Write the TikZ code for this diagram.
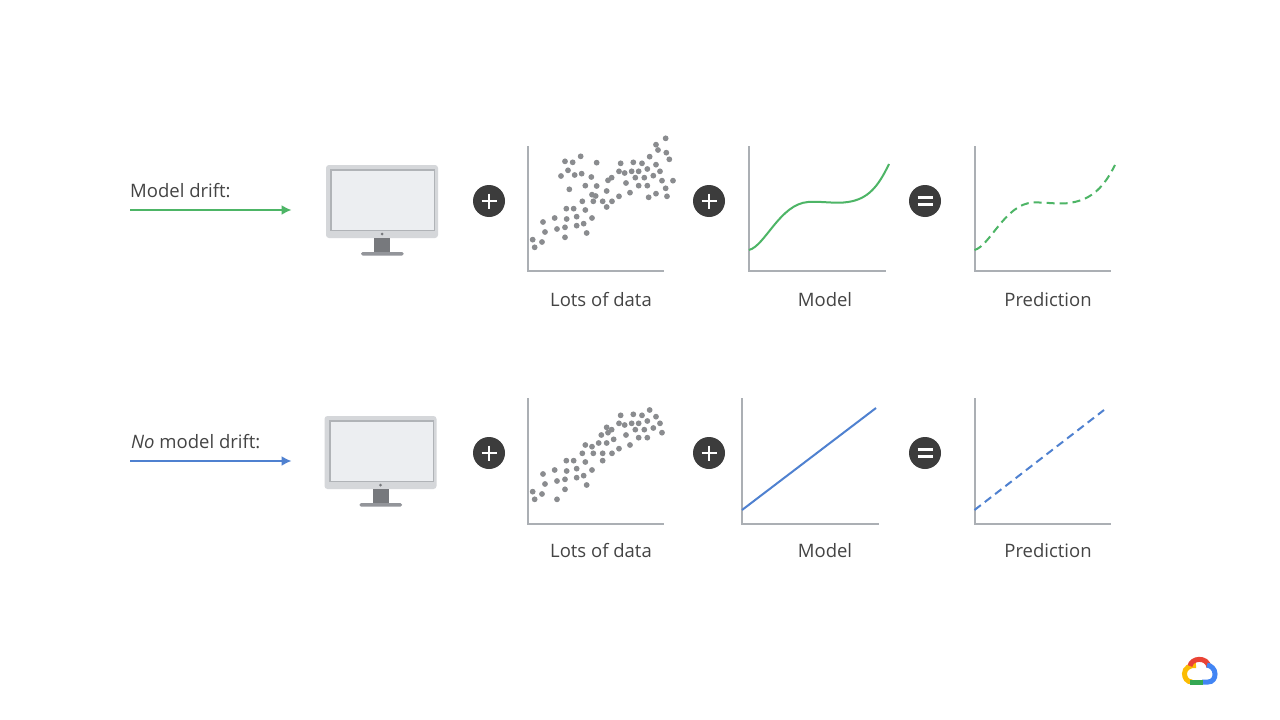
\documentclass[tikz,border=0pt]{standalone}
\usepackage{fontspec}
\setmainfont{Open Sans}
\definecolor{axisc}{HTML}{ABAFB4}
\definecolor{dotc}{HTML}{8A8C8F}
\definecolor{gline}{HTML}{4DB566}
\definecolor{bline}{HTML}{4F81D0}
\definecolor{circc}{HTML}{3C3C3C}
\definecolor{textc}{HTML}{444444}
\definecolor{bodyc}{HTML}{D5D7DA}
\definecolor{bezelc}{HTML}{B0B3B7}
\definecolor{screenc}{HTML}{ECEEF1}
\definecolor{standc}{HTML}{77797D}
\definecolor{basec}{HTML}{93959A}
\definecolor{gred}{HTML}{EA4335}
\definecolor{gblue}{HTML}{4285F4}
\definecolor{gyellow}{HTML}{FBBC04}
\definecolor{ggreen}{HTML}{34A853}
\usetikzlibrary{arrows.meta}
\tikzset{
  x=1pt,y=-1pt,
  lab/.style={font=\fontsize{18.5}{22}\selectfont,text=textc,inner sep=0pt,anchor=base},
  leftlab/.style={lab,anchor=base west},
  axisline/.style={draw=axisc,line width=2pt},
  ptdot/.style={fill=dotc,draw=none},
  gcurve/.style={draw=gline,line width=2pt},
  bcurve/.style={draw=bline,line width=2pt},
  dashy/.style={dash pattern=on 8pt off 5pt},
  opcirc/.style={circle,fill=circc,minimum size=32pt,inner sep=0pt},
  opbar/.style={draw=white,line width=2.7pt},
  flow/.style={line width=1.8pt,-{Latex[length=10pt,width=10pt]}},
}
\newcommand{\monitor}[2]{%
 \begin{scope}[shift={(#1,#2)}]
  \fill[bodyc,rounded corners=3pt] (326,165) rectangle (438,238);
  \fill[bezelc] (330,169) rectangle (435,231);
  \fill[screenc] (332,171) rectangle (434,229.5);
  \fill[standc] (374,238) rectangle (390,252);
  \fill[basec,rounded corners=1.5pt] (361,252) rectangle (403.5,255.5);
  \fill[standc] (382,234) circle (1.5);
 \end{scope}}
\newcommand{\axes}[3]{%
  \draw[axisline] (#1,#2) -- (#1,#3) -- (#1+136.5,#3);}
\newcommand{\opplus}[3]{%
  \node[opcirc] (#1) at (#2,#3) {};
  \draw[opbar] (#2-7.5,#3) -- (#2+7.5,#3);
  \draw[opbar] (#2,#3-7.5) -- (#2,#3+7.5);}
\newcommand{\opeq}[3]{%
  \node[opcirc] (#1) at (#2,#3) {};
  \draw[opbar] (#2-7.5,#3-3.5) -- (#2+7.5,#3-3.5);
  \draw[opbar] (#2-7.5,#3+3.5) -- (#2+7.5,#3+3.5);}
\begin{document}
\begin{tikzpicture}
\useasboundingbox (0,0) rectangle (1280,720);
\fill[white] (0,0) rectangle (1280,720);
% left labels and arrows
\node[leftlab] (l1) at (130,197) {Model drift:};
\coordinate (a1s) at (130,210); \coordinate (a1e) at (291.5,210);
\draw[flow,gline] (a1s) -- (a1e);
\node[leftlab] (l2) at (131,448) {\textit{No} model drift:};
\coordinate (a2s) at (130,461); \coordinate (a2e) at (291.5,461);
\draw[flow,bline] (a2s) -- (a2e);
% monitors
\monitor{0}{0}
\monitor{-1.5}{251}
% axes
\axes{527.5}{146}{271}
\axes{527.5}{398}{523.5}
\axes{749}{146}{271}
\axes{742}{398}{523.5}
\axes{974.5}{146}{271}
\axes{974.5}{398}{523.5}
% top scatter
\begin{scope}[shift={(510,130)},x=0.3333pt,y=-0.3333pt]
\foreach \p/\q in {467/25,438/44,444/60,469/68,419/80,478/88,212/79,165/94,188/97,260/98,332/100,370/97,396/100,438/104,174/121,153/138,194/135,215/131,244/141,327/124,344/129,365/124,386/124,412/117,450/124,430/137,376/143,403/143,305/143,294/151,348/159,456/152,489/152,226/167,260/168,386/167,412/167,178/178,290/183,467/175,360/188,438/191,246/194,257/198,327/199,416/202,471/199,217/214,250/214,278/214,306/214,290/231,169/236,191/236,226/240,134/264,170/267,200/260,246/264,99/276,221/281,200/287,165/292,141/297,105/306,230/309,165/322,68/329,96/336,74/352}
  \fill[ptdot] (\p,\q) circle (2.9pt);
\end{scope}
% bottom scatter
\begin{scope}[shift={(510,390)},x=0.3333pt,y=-0.3333pt]
\foreach \p/\q in {419/60,332/76,370/73,396/76,438/80,412/93,327/100,344/105,365/100,386/100,450/100,290/112,305/119,294/128,376/119,403/119,430/114,456/128,274/135,348/135,311/148,386/143,412/143,226/165,246/170,266/159,290/159,360/165,327/176,217/190,250/190,278/190,306/190,169/212,191/212,278/212,226/216,134/240,170/243,200/236,246/240,99/252,221/257,200/263,165/268,141/273,105/282,230/285,165/298,68/305,96/312,74/328,141/328}
  \fill[ptdot] (\p,\q) circle (2.9pt);
\end{scope}
% operators
\opplus{p1}{489}{201}
\opplus{p2}{709}{201}
\opeq{e1}{925}{201}
\opplus{p3}{489}{453}
\opplus{p4}{709}{453}
\opeq{e2}{925}{453}
% model curves
\draw[gcurve] (749,250) .. controls (765,246) and (780,204) .. (808,202)
  .. controls (822,201) and (835,204) .. (848,202)
  .. controls (868,199) and (878,187) .. (889,164);
\draw[gcurve,dashy] (974.5,250) .. controls (990,246) and (1005,204) .. (1033,202.5)
  .. controls (1047,202) and (1060,205) .. (1072,202.5)
  .. controls (1092,199) and (1104,187) .. (1115,165);
\draw[bcurve] (742,510) -- (876,408);
\draw[bcurve,dashy] (974.5,510) -- (1104,410);
% labels
\node[lab] (t1) at (601,306) {Lots of data};
\node[lab] (t2) at (825,306) {Model};
\node[lab] (t3) at (1048,306) {Prediction};
\node[lab] (t4) at (601,557) {Lots of data};
\node[lab] (t5) at (825,557) {Model};
\node[lab] (t6) at (1048,557) {Prediction};
% cloud logo
\begin{scope}[line width=5pt]
  \draw[draw=gyellow] (1196,665.5) .. controls (1190,665) and (1184.5,668) .. (1184.5,673.5) .. controls (1184.5,678) and (1187,682) .. (1192,682);
  \draw[draw=gred] (1190,666) .. controls (1191,658) and (1207,656) .. (1209,667);
  \draw[draw=gblue] (1202,682) -- (1208,682) .. controls (1213,682) and (1215,678) .. (1215,674) .. controls (1215,669) and (1211,665.5) .. (1207,665);
  \draw[draw=ggreen] (1190,682) -- (1203,682);
\end{scope}
\end{tikzpicture}
\end{document}
